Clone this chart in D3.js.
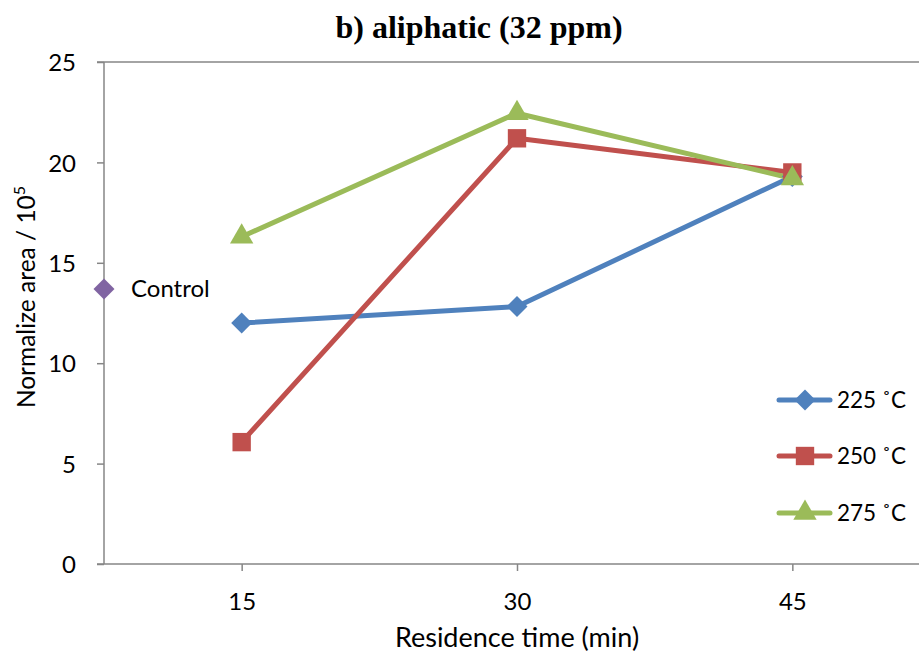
<!DOCTYPE html>
<html>
<head>
<meta charset="utf-8">
<script src="https://cdn.jsdelivr.net/npm/d3@7/dist/d3.min.js"></script>
<style>
  html, body { margin: 0; padding: 0; background: #fff; }
  svg { display: block; }
</style>
</head>
<body>
<svg id="chart" width="919" height="653"></svg>
<script>
// Residence times (min) and normalized peak areas (×10^5)
const times = [15, 30, 45];
const series225 = [12.0, 12.82, 19.3];
const series250 = [6.07, 21.2, 19.5];
const series275 = [16.3, 22.45, 19.2];
const controlValue = 13.7;
const seriesNames = ["225 ˚C", "250 ˚C", "275 ˚C"];
const yTicks = [0, 5, 10, 15, 20, 25];

const colors = ["#4F81BD", "#C0504D", "#9BBB59"];
const symbols = [d3.symbolDiamond2, d3.symbolSquare2, d3.symbolTriangle2];
const symbolSizes = [280, 430, 390];
const controlColor = "#8064A2";
const axisColor = "#868686";
const font = "Lato, 'Open Sans', sans-serif";

const svg = d3.select("#chart");
const plotLeft = 104, plotTop = 62, plotBottom = 564, plotRightEnd = 919;

const x = d3.scaleLinear().domain([7.5, 52.5]).range([plotLeft, 930]);
const y = d3.scaleLinear().domain([0, 25]).range([plotBottom, plotTop]);

// Title
svg.append("text")
  .attr("x", 479).attr("y", 38)
  .attr("text-anchor", "middle")
  .style("font-family", "'Liberation Serif', 'Times New Roman', serif")
  .style("font-weight", "bold")
  .style("font-size", "32px")
  .text("b) aliphatic (32 ppm)");

// Top boundary line at maximum
svg.append("line")
  .attr("x1", plotLeft - 7).attr("x2", plotRightEnd)
  .attr("y1", y(25)).attr("y2", y(25))
  .attr("stroke", axisColor).attr("stroke-width", 1.5);

// Y axis
const yAxis = d3.axisLeft(y).tickValues(yTicks).tickSize(7).tickPadding(21);
const gy = svg.append("g").attr("transform", `translate(${plotLeft},0)`).call(yAxis);
gy.select(".domain").attr("stroke", axisColor).attr("stroke-width", 1.5)
  .attr("d", `M0,${plotBottom}V${plotTop}`);
gy.selectAll(".tick line").attr("stroke", axisColor).attr("stroke-width", 1.5);
gy.selectAll(".tick text")
  .style("font-family", font).style("font-size", "24px").attr("fill", "#000")
  .attr("dy", "0.36em");

// X axis
const xAxis = d3.axisBottom(x).tickValues(times).tickSize(7).tickPadding(0);
const gx = svg.append("g").attr("transform", `translate(0,${plotBottom})`).call(xAxis);
gx.select(".domain").attr("stroke", axisColor).attr("stroke-width", 1.5)
  .attr("d", `M${plotLeft - 7},0H${plotRightEnd}`);
gx.selectAll(".tick line").attr("stroke", axisColor).attr("stroke-width", 1.5);
gx.selectAll(".tick text")
  .style("font-family", font).style("font-size", "24px").attr("fill", "#000")
  .attr("y", 46).attr("dy", null);

// Axis titles
svg.append("text")
  .attr("x", 517).attr("y", 647)
  .attr("text-anchor", "middle")
  .style("font-family", font).style("font-size", "27px")
  .text("Residence time (min)");

const yTitle = svg.append("text")
  .attr("transform", `translate(35,297) rotate(-90)`)
  .attr("text-anchor", "middle")
  .style("font-family", font).style("font-size", "24.5px");
yTitle.append("tspan").text("Normalize area / 10");
yTitle.append("tspan").attr("dy", -10).style("font-size", "16px").text("5");

// Series lines and markers
const allSeries = [series225, series250, series275];
const line = d3.line().x((d, i) => x(times[i])).y(d => y(d));

allSeries.forEach((vals, si) => {
  svg.append("path")
    .datum(vals)
    .attr("d", line)
    .attr("fill", "none")
    .attr("stroke", colors[si])
    .attr("stroke-width", 5)
    .attr("stroke-linejoin", "round")
    .attr("stroke-linecap", "round");
});
allSeries.forEach((vals, si) => {
  svg.selectAll(null)
    .data(vals)
    .enter().append("path")
    .attr("d", d3.symbol().type(symbols[si]).size(symbolSizes[si]))
    .attr("transform", (d, i) => `translate(${x(times[i])},${y(d)})`)
    .attr("fill", colors[si])
    .attr("stroke", "none");
});

// Control point on the axis
svg.append("path")
  .attr("d", d3.symbol().type(d3.symbolDiamond2).size(symbolSizes[0]))
  .attr("transform", `translate(${x(7.5)},${y(controlValue)})`)
  .attr("fill", controlColor);
svg.append("text")
  .attr("x", x(7.5) + 27).attr("y", y(controlValue) + 8)
  .style("font-family", font).style("font-size", "24px")
  .text("Control");

// Legend
const legendY = [400, 456, 513];
seriesNames.forEach((name, si) => {
  const g = svg.append("g").attr("transform", `translate(0,${legendY[si]})`);
  g.append("line")
    .attr("x1", 779).attr("x2", 830)
    .attr("stroke", colors[si]).attr("stroke-width", 5)
    .attr("stroke-linecap", "round");
  g.append("path")
    .attr("d", d3.symbol().type(symbols[si]).size(symbolSizes[si]))
    .attr("transform", "translate(805,0)")
    .attr("fill", colors[si]);
  g.append("text")
    .attr("x", 837).attr("y", 8)
    .style("font-family", font).style("font-size", "22.5px")
    .text(name);
});
</script>
</body>
</html>
